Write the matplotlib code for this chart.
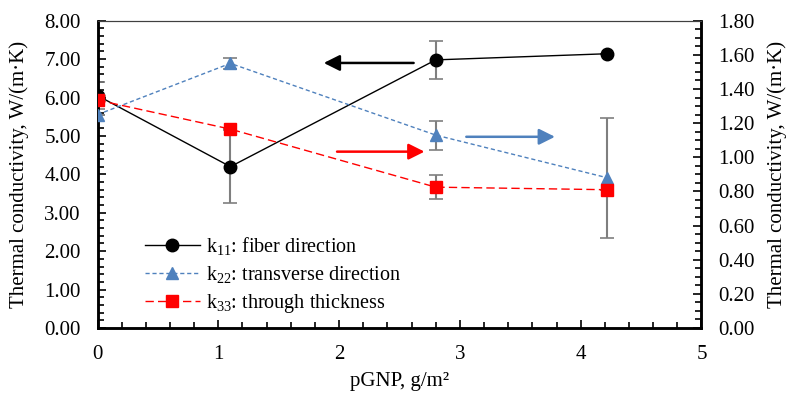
import matplotlib.pyplot as plt
from matplotlib.lines import Line2D
from matplotlib.ticker import MultipleLocator, FormatStrFormatter

plt.rcParams["font.family"] = ["Liberation Serif", "DejaVu Serif"]
plt.rcParams["mathtext.fontset"] = "custom"
plt.rcParams["mathtext.rm"] = "Liberation Serif"
plt.rcParams["mathtext.it"] = "Liberation Serif"

# pGNP loading, g/m²
pgnp = [0.0, 1.1, 2.8, 4.22]

# k11 on left axis
k11 = [6.05, 4.20, 6.98, 7.14]
k11_err = [0.35, 0.95, 0.49, 0.0]

# k22 and k33 on right axis
k22 = [1.25, 1.55, 1.13, 0.88]
k22_err = [0.0, 0.03, 0.085, 0.35]
k33 = [1.335, 1.165, 0.825, 0.81]
k33_err = [0.0, 0.0, 0.07, 0.0]

labels = ["k$_{11}$: fiber direction", "k$_{22}$: transverse direction", "k$_{33}$: through thickness"]

BLACK = "#000000"
BLUE = "#4F81BD"
RED = "#FF0000"
GREY = "#7F7F7F"
FS = 15

fig = plt.figure(figsize=(7.91, 3.95), dpi=100)
ax = fig.add_axes([0.1233, 0.1696, 0.7635, 0.778])
ax2 = ax.twinx()

ax.errorbar(pgnp, k11, yerr=k11_err, fmt="none", ecolor=GREY, elinewidth=1.5, capsize=5, capthick=1.2, zorder=2)
ax.plot(pgnp, k11, color=BLACK, lw=1.0, marker="o", ms=9, zorder=3)

ax2.errorbar(pgnp, k22, yerr=k22_err, fmt="none", ecolor=GREY, elinewidth=1.5, capsize=5, capthick=1.2, zorder=2)
ax2.errorbar(pgnp, k33, yerr=k33_err, fmt="none", ecolor=GREY, elinewidth=1.5, capsize=5, capthick=1.2, zorder=2)
ax2.plot(pgnp, k22, color=BLUE, lw=1.0, ls=(0, (3, 2)), marker="^", ms=9, zorder=3)
ax2.plot(pgnp, k33, color=RED, lw=1.0, ls=(0, (6, 3)), marker="s", ms=8, zorder=4)

# direction arrows pointing to the axis each series belongs to
ax.annotate("", xy=(1.85, 6.9), xytext=(2.64, 6.9),
            arrowprops=dict(arrowstyle="-|>", color=BLACK, lw=1.8, mutation_scale=24))
ax2.annotate("", xy=(2.73, 1.033), xytext=(1.96, 1.033),
             arrowprops=dict(arrowstyle="-|>", color=RED, lw=1.8, mutation_scale=24))
ax2.annotate("", xy=(3.81, 1.12), xytext=(3.03, 1.12),
             arrowprops=dict(arrowstyle="-|>", color=BLUE, lw=1.8, mutation_scale=24))

ax.set_xlim(0, 5)
ax.set_ylim(0, 8)
ax2.set_ylim(0, 1.8)
ax.xaxis.set_major_locator(MultipleLocator(1))
ax.xaxis.set_minor_locator(MultipleLocator(0.2))
ax.yaxis.set_major_locator(MultipleLocator(1))
ax.yaxis.set_minor_locator(MultipleLocator(0.2))
ax.yaxis.set_major_formatter(FormatStrFormatter("%.2f"))
ax2.yaxis.set_major_locator(MultipleLocator(0.2))
ax2.yaxis.set_minor_locator(MultipleLocator(0.05))
ax2.yaxis.set_major_formatter(FormatStrFormatter("%.2f"))

for a in (ax, ax2):
    a.tick_params(which="major", direction="in", length=6, width=1.2, labelsize=FS, pad=12)
    a.tick_params(which="minor", direction="in", length=4, width=1.2)
    for side in ("left", "right", "bottom"):
        a.spines[side].set_linewidth(1.8)
    a.spines["top"].set_linewidth(0.8)
    a.spines["top"].set_color("#404040")
ax.tick_params(axis="x", which="both", top=False, pad=12)

ax.set_xlabel("pGNP, g/m²", fontsize=FS, labelpad=6)
ax.set_ylabel("Thermal conductivity, W/(m·K)", fontsize=FS, labelpad=11)
ax2.set_ylabel("Thermal conductivity, W/(m·K)", fontsize=FS, labelpad=9)

handles = [
    Line2D([], [], color=BLACK, lw=1.0, marker="o", ms=9),
    Line2D([], [], color=BLUE, lw=1.0, ls=(0, (3, 2)), marker="^", ms=9),
    Line2D([], [], color=RED, lw=1.0, ls=(0, (6, 3)), marker="s", ms=8),
]
ax2.legend(handles, labels, loc="center left", bbox_to_anchor=(0.078, 0.1725), frameon=False,
           fontsize=14.5, handlelength=2.75, labelspacing=0.35, handletextpad=0.3,
           borderpad=0, borderaxespad=0)

fig.savefig("out.png", dpi=100)
